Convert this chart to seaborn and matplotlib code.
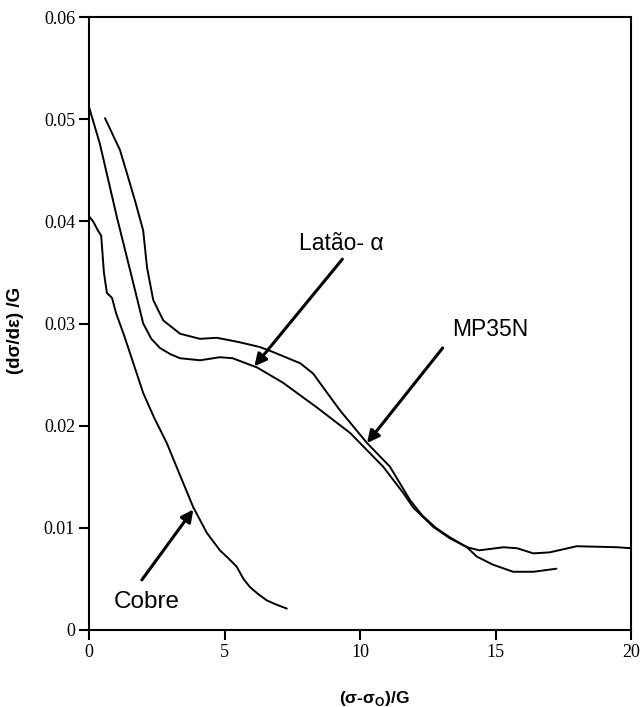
import matplotlib
matplotlib.use("Agg")
import matplotlib.pyplot as plt
import seaborn as sns
import pandas as pd

# ---- data ----
cobre_x = [0.0, 0.15, 0.33, 0.45, 0.55, 0.66, 0.85, 1.0, 1.3, 1.6, 2.0, 2.4, 2.87, 3.35, 3.85, 4.35, 4.83, 5.15, 5.45, 5.7, 5.94, 6.25, 6.56, 6.9, 7.3]
cobre_y = [0.0405, 0.0400, 0.0391, 0.0386, 0.0350, 0.0330, 0.0325, 0.0310, 0.0288, 0.0264, 0.0232, 0.0208, 0.0183, 0.0152, 0.0120, 0.0095, 0.0078, 0.0070, 0.0062, 0.0050, 0.0042, 0.0035, 0.0029, 0.0025, 0.0021]

latao_x = [0.0, 0.4, 1.03, 1.63, 2.0, 2.3, 2.62, 3.0, 3.36, 4.1, 4.83, 5.3, 5.7, 6.2, 7.16, 8.4, 9.63, 10.85, 11.6, 11.96, 12.7, 13.3, 13.95, 14.3, 14.9, 15.65, 16.4, 17.25]
latao_y = [0.0512, 0.0476, 0.0404, 0.0340, 0.0300, 0.0285, 0.0276, 0.0270, 0.0266, 0.0264, 0.0267, 0.0266, 0.0262, 0.0257, 0.0242, 0.0218, 0.0193, 0.0160, 0.0134, 0.0120, 0.0101, 0.0090, 0.0081, 0.0072, 0.0064, 0.0057, 0.0057, 0.0060]

mp35n_x = [0.59, 1.14, 1.4, 1.7, 2.0, 2.14, 2.37, 2.74, 3.36, 4.09, 4.72, 5.5, 6.3, 6.8, 7.8, 8.27, 9.26, 10.26, 11.1, 11.85, 12.3, 12.8, 13.3, 13.95, 14.4, 15.3, 15.8, 16.4, 17.0, 18.0, 19.5, 20.0]
mp35n_y = [0.0501, 0.0470, 0.0447, 0.0420, 0.0391, 0.0355, 0.0323, 0.0303, 0.0290, 0.0285, 0.0286, 0.0282, 0.0277, 0.0272, 0.0261, 0.0251, 0.0215, 0.0183, 0.0160, 0.0127, 0.0112, 0.0100, 0.0091, 0.0081, 0.0078, 0.0081, 0.0080, 0.0075, 0.0076, 0.0082, 0.0081, 0.0080]

x_ticks = [0, 5, 10, 15, 20]
y_ticks = [0, 0.01, 0.02, 0.03, 0.04, 0.05, 0.06]
y_ticklabels = ["0", "0.01", "0.02", "0.03", "0.04", "0.05", "0.06"]

sns.set_style("ticks")
plt.rcParams["font.family"] = ["Liberation Sans", "DejaVu Sans"]
plt.rcParams["mathtext.fontset"] = "custom"
plt.rcParams["mathtext.rm"] = "Liberation Sans:bold"
plt.rcParams["mathtext.bf"] = "Liberation Sans:bold"
for k in ["text.color", "axes.labelcolor", "xtick.color", "ytick.color", "axes.edgecolor"]:
    plt.rcParams[k] = "black"

fig = plt.figure(figsize=(6.42, 7.07), dpi=100)
ax = fig.add_axes([89 / 642, 77 / 707, 542 / 642, 613 / 707])

for xs, ys in [(cobre_x, cobre_y), (latao_x, latao_y), (mp35n_x, mp35n_y)]:
    df = pd.DataFrame({"x": xs, "y": ys})
    sns.lineplot(data=df, x="x", y="y", sort=False, color="black", lw=1.4, ax=ax, estimator=None)

ax.set_xlim(0, 20)
ax.set_ylim(0, 0.06)
ax.set_xticks(x_ticks)
ax.set_xticklabels([str(t) for t in x_ticks], fontfamily="Liberation Serif", fontsize=13)
ax.set_yticks(y_ticks)
ax.set_yticklabels(y_ticklabels, fontfamily="Liberation Serif", fontsize=13)
ax.tick_params(direction="out", length=7, width=1.5, colors="black", pad=3)
for s in ax.spines.values():
    s.set_linewidth(1.5)
    s.set_color("black")

ax.set_xlabel(r"(σ-σ$_\mathrm{O}$)/G", fontweight="bold", fontsize=12.5)
ax.xaxis.set_label_coords((374 - 89) / 542, -(689 - 630) / 613)
ax.set_ylabel("(dσ/dε) /G", fontweight="bold", fontsize=13.5)
ax.yaxis.set_label_coords((24 - 89) / 542, (630 - 330) / 613)

arrow = dict(arrowstyle="-|>", color="black", lw=2.2, mutation_scale=18, shrinkA=0, shrinkB=0)
ax.annotate("", xy=(6.1, 0.0258), xytext=(9.35, 0.0363), arrowprops=arrow)
ax.annotate("", xy=(10.26, 0.0183), xytext=(13.05, 0.0276), arrowprops=arrow)
ax.annotate("", xy=(3.85, 0.0118), xytext=(1.95, 0.0049), arrowprops=arrow)

ax.text((341 - 89) / 27.1, (630 - 243) / 10220, "Latão- α", fontsize=16.5, ha="center", va="center")
ax.text((490 - 89) / 27.1, (630 - 329) / 10220, "MP35N", fontsize=16.5, ha="center", va="center")
ax.text((147 - 89) / 27.1, (630 - 602) / 10220, "Cobre", fontsize=17.5, ha="center", va="center")

fig.savefig("out.png", dpi=100)
